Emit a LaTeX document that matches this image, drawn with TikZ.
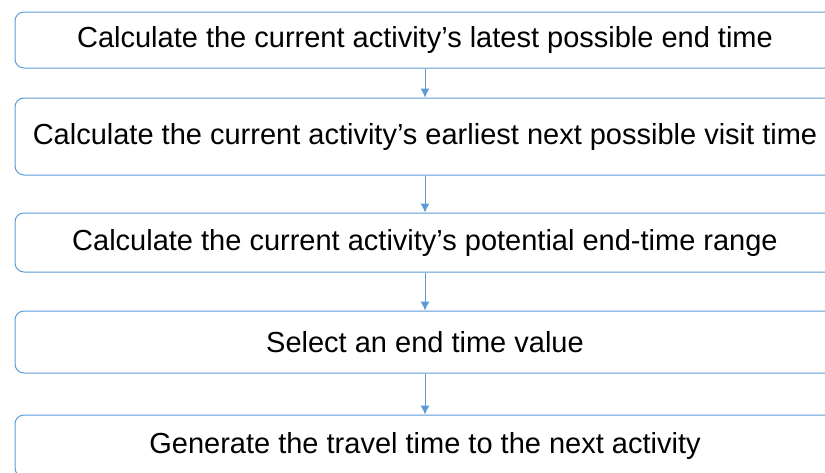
\documentclass[tikz,border=0pt]{standalone}
\usepackage{fontspec}
\setmainfont{Liberation Sans}
\usetikzlibrary{arrows.meta}
\definecolor{boxblue}{RGB}{91,155,213}
\tikzset{
	stepbox/.style = {draw=boxblue, line width=1pt, rectangle, rounded corners=9pt,
		minimum width=820pt, inner sep=0pt, font=\fontsize{29}{34}\selectfont},
	flow/.style    = {draw=boxblue, line width=1pt, -{Latex[length=9pt,width=9pt]}}
}

\begin{document}
\begin{tikzpicture}[x=1pt, y=-1pt]
	\useasboundingbox (0,0) rectangle (825,472);
	\clip (0,0) rectangle (825,472);
	\draw
	node at (425,40) [stepbox, minimum height=56pt] (s1) {Calculate the current activity’s latest possible end time}
	node at (425,136.5) [stepbox, minimum height=77pt] (s2) {Calculate the current activity’s earliest next possible visit time}
	node at (425,242.5) [stepbox, minimum height=59pt] (s3) {Calculate the current activity’s potential end-time range}
	node at (425,342) [stepbox, minimum height=62pt] (s4) {Select an end time value}
	node at (425,446) [stepbox, minimum height=62pt] (s5) {Generate the travel time to the next activity};
	
	\draw[flow](s1)--(s2);
	\draw[flow](s2)--(s3);
	\draw[flow](s3)--(s4);
	\draw[flow](s4)--(s5);
\end{tikzpicture}
\end{document}
